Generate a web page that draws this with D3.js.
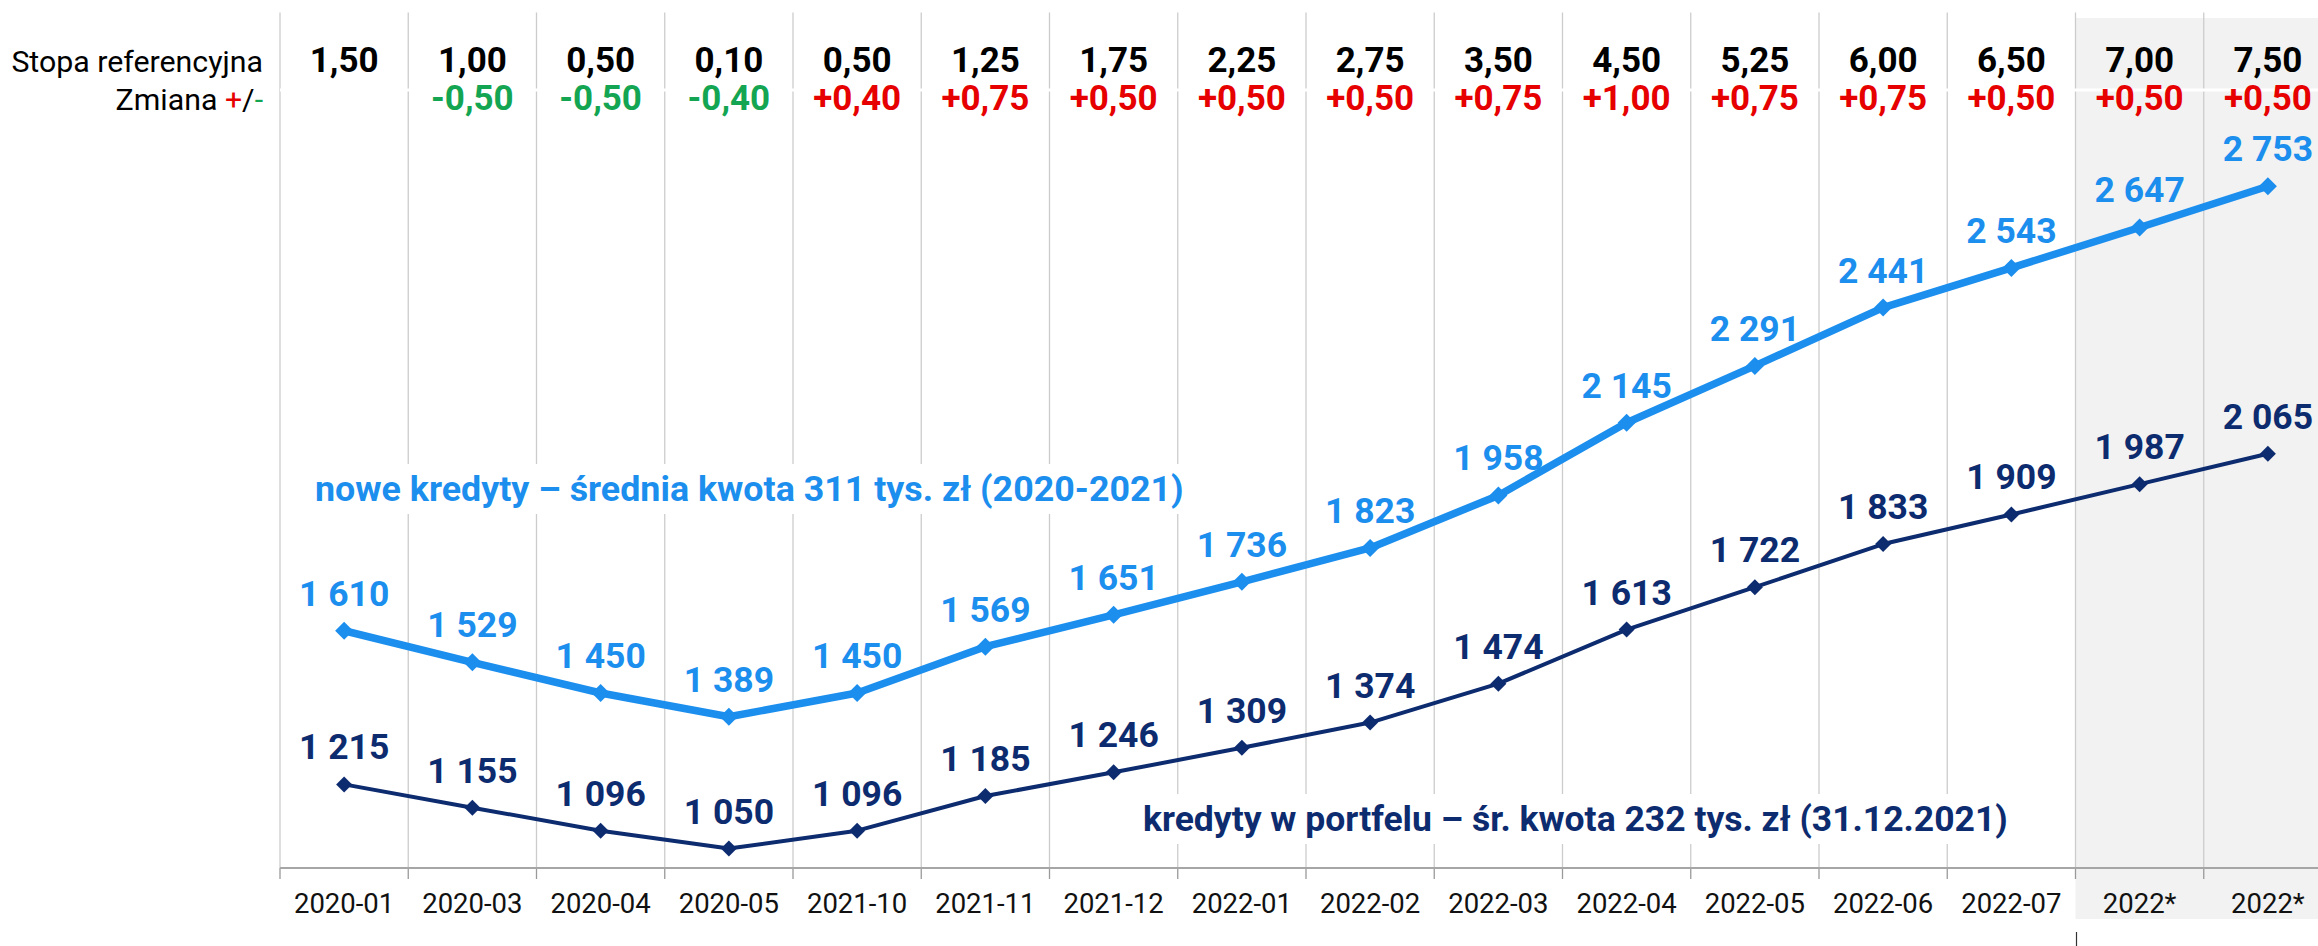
<!DOCTYPE html>
<html><head><meta charset="utf-8">
<script src="https://cdn.jsdelivr.net/npm/d3@7/dist/d3.min.js"></script>
<style>
html,body{margin:0;padding:0;background:#fff;}
svg{display:block;}
text{font-family:Roboto,"Open Sans",sans-serif;}
</style></head>
<body>
<script>
// ---- data ----
const categories = ["2020-01","2020-03","2020-04","2020-05","2021-10","2021-11","2021-12","2022-01","2022-02","2022-03","2022-04","2022-05","2022-06","2022-07","2022*","2022*"];
const stopaReferencyjna = [1.50,1.00,0.50,0.10,0.50,1.25,1.75,2.25,2.75,3.50,4.50,5.25,6.00,6.50,7.00,7.50];
const zmiana = [null,-0.50,-0.50,-0.40,0.40,0.75,0.50,0.50,0.50,0.75,1.00,0.75,0.75,0.50,0.50,0.50];
const noweKredyty = [1610,1529,1450,1389,1450,1569,1651,1736,1823,1958,2145,2291,2441,2543,2647,2753];
const kredytyPortfel = [1215,1155,1096,1050,1096,1185,1246,1309,1374,1474,1613,1722,1833,1909,1987,2065];
const forecastFrom = 14;
const yDomain = [1000, 3200];
const labelNowe = "nowe kredyty – średnia kwota 311 tys. zł (2020-2021)";
const labelPortfel = "kredyty w portfelu – śr. kwota 232 tys. zł (31.12.2021)";

// ---- setup ----
const W = 2318, H = 946;
const loc = d3.formatLocale({decimal:",", thousands:"\u00a0", grouping:[3], currency:["",""], minus:"-"});
const fmtInt = loc.format(",d"), fmtRate = loc.format(".2f"), fmtChg = loc.format("+.2f");

const svg = d3.select("body").append("svg").attr("width", W).attr("height", H);
const colW = 128.25;
const x = d3.scaleBand().domain(d3.range(categories.length)).range([280, 280 + categories.length*colW]).padding(0);
const cx = i => x(i) + x.bandwidth()/2;
const y = d3.scaleLinear().domain(yDomain).range([868, 12.4]);
const yBase = y(yDomain[0]), yTop = y(yDomain[1]);

const cLight = "#1B8EEE", cDark = "#0D2B6F", cRed = "#E60000", cGreen = "#13A552";

// forecast shading
svg.append("rect").attr("x", x(forecastFrom)).attr("y", 18)
  .attr("width", W - x(forecastFrom)).attr("height", 919 - 18).attr("fill", "#F2F2F2");

// vertical gridlines at band boundaries
const bounds = d3.range(categories.length + 1).map(i => i < categories.length ? x(i) : x(i-1) + colW);
svg.append("g").selectAll("line").data(bounds).join("line")
  .attr("x1", d => d).attr("x2", d => d).attr("y1", yTop).attr("y2", yBase)
  .attr("stroke", "#CCCCCC").attr("stroke-width", 1.3);
// ticks below axis
svg.append("g").selectAll("line").data(bounds).join("line")
  .attr("x1", d => d).attr("x2", d => d).attr("y1", yBase).attr("y2", yBase + 11)
  .attr("stroke", "#9A9A9A").attr("stroke-width", 1.3);
// white separator between header rows
svg.append("line").attr("x1", 280).attr("x2", W).attr("y1", 90).attr("y2", 90)
  .attr("stroke", "#fff").attr("stroke-width", 3);
// x axis line
svg.append("line").attr("x1", 280).attr("x2", W).attr("y1", yBase).attr("y2", yBase)
  .attr("stroke", "#A6A6A6").attr("stroke-width", 2);
// small mark under forecast
svg.append("line").attr("x1", x(forecastFrom)+1).attr("x2", x(forecastFrom)+1).attr("y1", 932).attr("y2", H)
  .attr("stroke", "#333").attr("stroke-width", 1.2);

// x labels
svg.append("g").selectAll("text").data(categories).join("text")
  .attr("x", (d,i) => cx(i)).attr("y", 913).attr("text-anchor", "middle")
  .attr("font-size", 27.5).attr("fill", "#111").text(d => d);

// header
svg.append("text").attr("x", 263).attr("y", 72).attr("text-anchor", "end")
  .attr("font-size", 30.3).attr("fill", "#000").text("Stopa referencyjna");
const zt = svg.append("text").attr("x", 263).attr("y", 110).attr("text-anchor", "end")
  .attr("font-size", 30.3).attr("fill", "#000");
zt.append("tspan").text("Zmiana ");
zt.append("tspan").attr("fill", cRed).text("+");
zt.append("tspan").text("/");
zt.append("tspan").attr("fill", cGreen).text("-");

svg.append("g").selectAll("text").data(stopaReferencyjna).join("text")
  .attr("x", (d,i) => cx(i)).attr("y", 72).attr("text-anchor", "middle")
  .attr("font-size", 35).attr("font-weight", "bold").attr("fill", "#000").text(d => fmtRate(d));
svg.append("g").selectAll("text").data(zmiana.map((v,i)=>({v,i})).filter(d => d.v !== null)).join("text")
  .attr("x", d => cx(d.i)).attr("y", 110).attr("text-anchor", "middle")
  .attr("font-size", 35).attr("font-weight", "bold")
  .attr("fill", d => d.v < 0 ? cGreen : cRed).text(d => fmtChg(d.v));

// series labels with white background
function seriesLabel(txt, x0, yb, color, size) {
  const g = svg.append("g");
  const r = g.append("rect").attr("fill", "#fff");
  const t = g.append("text").attr("x", x0).attr("y", yb).attr("font-size", size)
    .attr("font-weight", "bold").attr("fill", color).text(txt);
  const bb = t.node().getBBox();
  r.attr("x", bb.x - 4).attr("y", bb.y - 4).attr("width", bb.width + 8).attr("height", bb.height + 8);
}
seriesLabel(labelNowe, 315, 501, cLight, 35.8);
seriesLabel(labelPortfel, 1143, 831, cDark, 35.5);

// lines
const line = d3.line().x((d,i) => cx(i)).y(d => y(d));
svg.append("path").datum(noweKredyty).attr("d", line).attr("fill", "none")
  .attr("stroke", cLight).attr("stroke-width", 7.5).attr("stroke-linejoin", "round");
svg.append("path").datum(kredytyPortfel).attr("d", line).attr("fill", "none")
  .attr("stroke", cDark).attr("stroke-width", 4).attr("stroke-linejoin", "round");

const diamond = s => `M0,${-s}L${s},0L0,${s}L${-s},0Z`;
svg.append("g").selectAll("path").data(noweKredyty).join("path")
  .attr("d", diamond(9)).attr("transform", (d,i) => `translate(${cx(i)},${y(d)})`).attr("fill", cLight);
svg.append("g").selectAll("path").data(kredytyPortfel).join("path")
  .attr("d", diamond(8)).attr("transform", (d,i) => `translate(${cx(i)},${y(d)})`).attr("fill", cDark);

// data labels
svg.append("g").selectAll("text").data(noweKredyty).join("text")
  .attr("x", (d,i) => cx(i)).attr("y", d => y(d) - 25).attr("text-anchor", "middle")
  .attr("font-size", 35.5).attr("font-weight", "bold").attr("fill", cLight).text(d => fmtInt(d));
svg.append("g").selectAll("text").data(kredytyPortfel).join("text")
  .attr("x", (d,i) => cx(i)).attr("y", d => y(d) - 25).attr("text-anchor", "middle")
  .attr("font-size", 35.5).attr("font-weight", "bold").attr("fill", cDark).text(d => fmtInt(d));
</script>
</body></html>
